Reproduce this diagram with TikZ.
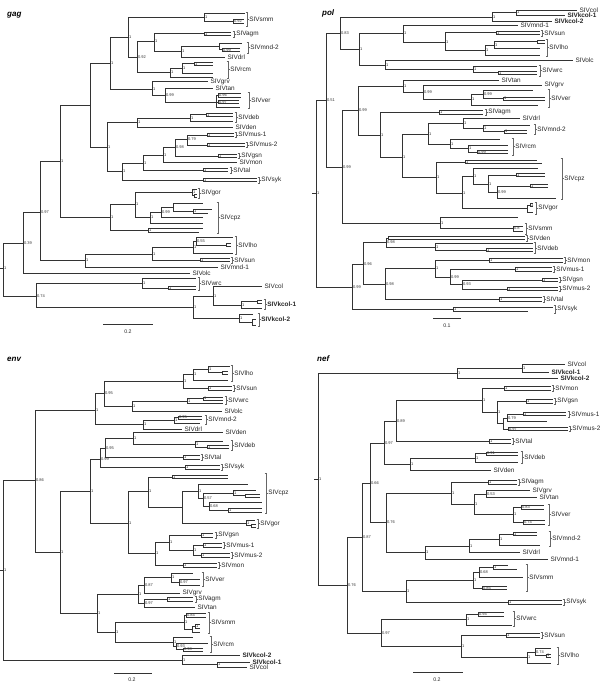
\documentclass[tikz,border=0pt]{standalone}
\usepackage{fontspec}
\setmainfont{Liberation Sans}
\newcounter{snc}
\newcommand\mkr[3]{\coordinate (#1) at (#2,#3);}
\newcommand\mkn[4]{\coordinate (#2) at (#3,#4);\draw[br] (#1) |- (#2);}
\newcommand\mks[2]{\stepcounter{snc}\node[sup] (sup\arabic{snc}) at (#1) {#2};}
\newcommand\mkb[8]{\coordinate (#2) at (#3,{(#4+#5)/2});\coordinate (#2a) at (#6,#4);\coordinate (#2b) at (#7,#5);%
 \draw[br] (#1) |- (#2);\draw[br] (#2) |- (#2a);\draw[br] (#2) |- (#2b);%
 \if\relax\detokenize{#8}\relax\else\mks{#2}{#8}\fi}
\newcommand\mkl[3]{\node[tax] (#1) at ([xshift=2pt]#2) {#3};}
\newcommand\mkk[5]{\draw[brk] ({#2-1.5},#3) -- (#2,#3) -- (#2,#4) -- ({#2-1.5},#4);%
 \draw[brk] (#2,{(#3+#4)/2}) -- ({#2+1.5},{(#3+#4)/2});%
 \node[tax] (#1) at ({#2+1.8},{(#3+#4)/2}) {#5};}
\tikzset{
 br/.style={draw=black!80,line width=0.5pt},
 brk/.style={draw=black!60,line width=0.35pt},
 sup/.style={font=\fontsize{4}{4.5}\selectfont,anchor=west,inner sep=0.3pt,xshift=0.6pt,text=black!80},
 tax/.style={font=\fontsize{6.4}{7}\selectfont,anchor=west,inner sep=0.3pt,text=black!85},
 ttl/.style={font=\fontsize{8}{9}\selectfont\bfseries\itshape,anchor=west,inner sep=0pt},
 scl/.style={font=\fontsize{5.2}{6}\selectfont,inner sep=0.3pt,text=black!85}
}
\begin{document}
\begin{tikzpicture}[x=1pt,y=-1pt]
\fill[white] (0,0) rectangle (600,682);
\useasboundingbox (0,0) rectangle (600,682);
% ================= gag =================
\node[ttl] (tgag) at (7,15) {gag};
\mkr{g0}{3}{268}\coordinate (g0s) at (0,268);\draw[br] (g0s) -- (g0);\mks{g0}{1}
\mkn{g0}{g039}{23}{243}\mks{g039}{0.39}
\mkn{g0}{g074}{36}{296}\mks{g074}{0.74}
\mkn{g039}{g097}{40}{212}\mks{g097}{0.97}
\mkn{g039}{golc}{190}{273}\mkl{lgolc}{golc}{SIVolc}
\mkn{g097}{g60}{60}{161}\mks{g60}{1}
\mkn{g097}{g85}{85}{260}\mks{g85}{1}
\mkn{g60}{g90}{90}{105}
\mkn{g60}{gC0}{110}{217}\mks{gC0}{1}
\mkn{g90}{g110}{110}{63}\mks{g110}{1}
\mkn{g90}{g107}{107}{147}\mks{g107}{1}
\mkn{g110}{g128}{128}{37}\mks{g128}{1}
\mkn{g110}{g152}{152}{89}\mks{g152}{1}
\mkn{g128}{gsmm}{204}{17}\mks{gsmm}{1}
\mkn{gsmm}{gsmm1}{245}{13}
\mkb{gsmm}{gsmm2}{233}{19}{23}{244}{244}{0.92}
\mkk{lgsmm}{247}{12}{26}{SIVsmm}
\mkn{g128}{g137}{137}{57}\mks{g137}{0.92}
\mkn{g137}{g154}{154}{41.5}\mks{g154}{1}
\mkn{g137}{g170}{170}{72.5}\mks{g170}{1}
\mkb{g154}{gagm}{204}{32}{35.5}{231}{231}{1}
\mkk{lgagm}{234}{31}{37}{SIVagm}
\mkn{g154}{g181}{181}{51}\mks{g181}{1}
\mkn{g181}{gmnd}{219}{46}
\mkn{gmnd}{gmnd1}{242}{43}
\mkb{gmnd}{gmnd2}{222}{48}{51.5}{240}{240}{0.99}
\mkk{lgmnd}{248}{42}{53}{SIVmnd-2}
\mkn{g181}{gdrl}{225}{57}\mkl{lgdrl}{gdrl}{SIVdrl}
\mkn{g170}{g182}{182}{68}\mks{g182}{1}
\mkb{g182}{grcm1}{194}{62}{65.5}{213}{213}{1}
\mkn{g182}{grcm2}{213}{73}
\mkn{g170}{grcm3}{213}{77}
\mkk{lgrcm}{228}{61}{78}{SIVrcm}
\mkn{g152}{ggrv}{208}{81.5}\mkl{lggrv}{ggrv}{SIVgrv}
\mkn{g152}{g165}{165}{95.5}\mks{g165}{0.99}
\mkn{g165}{gtan}{213}{88.5}\mkl{lgtan}{gtan}{SIVtan}
\mkn{g165}{gver}{216}{102}
\mkb{gver}{gver1}{218}{93}{97}{241}{241}{0.96}
\mkb{gver}{gver2}{218}{100.5}{103.5}{239}{239}{0.97}
\mkn{gver}{gver3}{240}{107}
\mkk{lgver}{249}{92}{108}{SIVver}
\mkn{g107}{gdd}{137}{122}\mks{gdd}{1}
\mkn{gdd}{gdeb}{190}{118}\mks{gdeb}{1}
\mkb{gdeb}{gdeb1}{206}{113}{116.5}{233}{233}{1}
\mkn{gdeb}{gdeb2}{233}{121}
\mkk{lgdeb}{236}{112}{122}{SIVdeb}
\mkn{gdd}{gden}{233}{127}\mkl{lgden}{gden}{SIVden}
\mkn{g107}{g122}{122}{171}\mks{g122}{1}
\mkn{g122}{g143}{143}{163}\mks{g143}{1}
\mkb{g122}{gsyk}{203}{178}{181.5}{257}{257}{1}
\mkk{lgsyk}{259}{177}{183}{SIVsyk}
\mkn{g143}{g163}{163}{155}\mks{g163}{1}
\mkb{g143}{gtal}{203}{168}{171.5}{228}{228}{1}
\mkk{lgtal}{231}{167}{173}{SIVtal}
\mkn{g163}{g175}{175}{147}\mks{g175}{0.98}
\mkn{g163}{gmon}{237}{162}\mkl{lgmon}{gmon}{SIVmon}
\mkn{g175}{g187}{187}{139}\mks{g187}{0.79}
\mkb{g175}{ggsn}{218}{154}{157.5}{237}{237}{1}
\mkk{lggsn}{239}{153}{158.5}{SIVgsn}
\mkb{g187}{gmus1}{207}{133}{136.5}{234}{234}{1}
\mkk{lgmus1}{236}{132}{137.5}{SIVmus-1}
\mkb{g187}{gmus2}{207}{143}{146.5}{245}{245}{1}
\mkk{lgmus2}{247}{142}{147.5}{SIVmus-2}
\mkn{gC0}{gC1}{135}{204}\mks{gC1}{1}
\mkb{gC0}{gC4}{148}{228}{232}{203}{199}{1}
\mkn{gC1}{ggor}{192}{192.5}\mks{ggor}{1}
\mkn{ggor}{ggor1}{197}{189}
\mkb{ggor}{ggor2}{194}{194}{197}{197}{197}{}
\mkk{lggor}{199}{188}{198}{SIVgor}
\mkn{gC1}{gC2}{150}{217}\mks{gC2}{1}
\mkn{gC2}{gC3}{161}{212}\mks{gC3}{0.99}
\mkn{gC2}{gcpz5}{203}{223}
\mkn{gC3}{gC5}{173}{207}
\mkn{gC5}{gcpz1}{203}{203}
\mkb{gC5}{gcpz2}{193}{209}{213}{212}{208}{1}
\mkn{gC3}{gcpz3}{203}{217}
\mkk{lgcpz}{218}{202}{233}{SIVcpz}
\mkn{g85}{g152b}{152}{254}\mks{g152b}{1}
\mkn{g85}{gmnd1}{218}{267}\mkl{lgmnd1}{gmnd1}{SIVmnd-1}
\mkn{g152b}{glho}{193}{247}\mks{glho}{1}
\mkn{glho}{glho2}{196}{241}\mks{glho2}{0.55}
\mkn{glho2}{glho3}{233}{237}
\mkb{glho2}{glho4}{226}{243.5}{246.5}{231}{231}{}
\mkn{glho}{glho5}{233}{253}
\mkk{lglho}{236}{236}{254}{SIVlho}
\mkb{g152b}{gsun}{200}{258}{261.5}{230}{230}{1}
\mkk{lgsun}{232}{257}{263}{SIVsun}
\mkn{g074}{gwrc}{142}{283}\mks{gwrc}{1}
\mkn{gwrc}{gwrc1}{196}{278}
\mkb{gwrc}{gwrc2}{168}{286}{289.5}{196}{196}{1}
\mkk{lgwrc}{199}{277}{290}{SIVwrc}
\mkn{g074}{gk}{193}{307}\mks{gk}{1}
\mkn{gk}{gk1}{213}{296}\mks{gk1}{1}
\mkn{gk1}{gcol}{262}{286}\mkl{lgcol}{gcol}{SIVcol}
\mkn{gk1}{gk1b}{241}{305}\mks{gk1b}{1}
\mkb{gk1b}{gk1c}{257}{300}{303}{262}{262}{}
\mkn{gk1b}{gk1d}{262}{308}
\mkk{lgk1}{265}{299}{309}{\textbf{SIVkcol-1}}
\mkn{gk}{gk2}{239}{318}\mks{gk2}{1}
\mkn{gk2}{gk2a}{253}{314}
\mkb{gk2}{gk2b}{252}{319}{325}{256}{256}{}
\mkk{lgk2}{259}{313}{326}{\textbf{SIVkcol-2}}
\coordinate (gsb1) at (103,324);\coordinate (gsb2) at (153,324);\draw[br] (gsb1) -- (gsb2);
\node[scl] (gsbl) at (128,332) {0.2};
% ================= pol =================
\node[ttl] (tpol) at (322,13) {pol};
\mkr{p0}{316}{193}\coordinate (p0s) at (312,193);\draw[br] (p0s) -- (p0);\mks{p0}{1}
\mkn{p0}{p051}{326}{100}\mks{p051}{0.51}
\mkn{p0}{p099l}{352}{287}\mks{p099l}{0.99}
\mkn{p051}{p083}{340}{33}\mks{p083}{0.83}
\mkn{p051}{p099a}{342}{167}\mks{p099a}{0.99}
\mkn{p083}{pk}{492}{17}\mks{pk}{1}
\mkn{pk}{pk1}{516}{12.5}\mks{pk1}{1}
\mkn{pk1}{pcol}{577}{10}\mkl{lpcol}{pcol}{SIVcol}
\mkn{pk1}{pkc1}{565}{15}\mkl{lpkc1}{pkc1}{\textbf{SIVkcol-1}}
\mkn{pk}{pkc2}{552}{21}\mkl{lpkc2}{pkc2}{\textbf{SIVkcol-2}}
\mkn{p083}{p359}{359}{49}\mks{p359}{1}
\mkn{p359}{p403}{403}{33.5}\mks{p403}{1}
\mkn{p359}{p385}{385}{65}\mks{p385}{1}
\mkn{p403}{pmnd1}{518}{25}\mkl{lpmnd1}{pmnd1}{SIVmnd-1}
\mkn{p403}{p445}{445}{42}\mks{p445}{1}
\mkb{p445}{psun}{496}{31}{34.5}{540}{540}{1}
\mkk{lpsun}{542}{30}{36}{SIVsun}
\mkn{p445}{p485}{485}{50}\mks{p485}{1}
\mkn{p485}{p494}{494}{45}\mks{p494}{1}
\mkb{p494}{plho1}{537}{40}{43.5}{545}{545}{}
\mkn{p494}{plho2}{540}{48}
\mkn{p485}{plho3}{540}{55}
\mkk{lplho}{547}{39}{56}{SIVlho}
\mkn{p385}{polc}{573}{60}\mkl{lpolc}{polc}{SIVolc}
\mkn{p385}{p473}{473}{69.5}\mks{p473}{1}
\mkn{p473}{pwrc1}{537}{66}
\mkb{p473}{pwrc2}{498}{71}{74.5}{537}{537}{1}
\mkk{lpwrc}{540}{65}{76}{SIVwrc}
\mkn{p099a}{p358}{358}{110}\mks{p358}{0.99}
\mkn{p099a}{psmm}{440}{223}\mks{psmm}{1}
\mkn{psmm}{psmm1}{518}{217}
\mkb{psmm}{psmm2}{513}{226}{231}{523}{523}{0.8}
\mkk{lpsmm}{526}{223}{234}{SIVsmm}
\mkn{p358}{p403b}{403}{86}\mks{p403b}{1}
\mkn{p358}{p380}{380}{135}\mks{p380}{1}
\mkn{p403b}{ptan}{499}{80}\mkl{lptan}{ptan}{SIVtan}
\mkn{p403b}{p423}{423}{92}\mks{p423}{0.99}
\mkn{p423}{pgrv}{542}{85}\mkl{lpgrv}{pgrv}{SIVgrv}
\mkn{p423}{p471}{471}{99.5}\mks{p471}{1}
\mkn{p471}{p483}{483}{94}\mks{p483}{0.99}
\mkn{p483}{pver1}{533}{90}
\mkb{p483}{pver2}{503}{97}{100}{545}{545}{1}
\mkn{p471}{pver3}{538}{105}
\mkk{lpver}{549}{89}{107}{SIVver}
\mkb{p380}{pagm}{439}{110.5}{114}{483}{483}{1}
\mkk{lpagm}{486}{109}{115.5}{SIVagm}
\mkn{p380}{p402}{402}{157}\mks{p402}{1}
\mkn{p402}{p428}{428}{134}\mks{p428}{1}
\mkn{p402}{p436}{436}{177.5}\mks{p436}{1}
\mkn{p428}{p463}{463}{123}\mks{p463}{1}
\mkn{p428}{p450}{450}{144}\mks{p450}{1}
\mkn{p463}{pdrl}{520}{118}\mkl{lpdrl}{pdrl}{SIVdrl}
\mkn{p463}{p483b}{483}{128}\mks{p483b}{1}
\mkn{p483b}{pmnd2a}{530}{125}
\mkb{p483b}{pmnd2b}{504}{130}{133}{527}{527}{1}
\mkk{lpmnd2}{535}{124}{134}{SIVmnd-2}
\mkn{p450}{prcm1}{500}{139}
\mkn{p450}{p468}{468}{148.5}\mks{p468}{1}
\mkn{p468}{prcm2}{508}{145}
\mkb{p468}{prcm3}{477}{150}{153.5}{508}{508}{0.99}
\mkk{lprcm}{513}{138}{155}{SIVrcm}
\mkb{p436}{pcpz1}{465}{160}{163.5}{537}{542}{1}
\mkn{p436}{p462}{462}{193}\mks{p462}{1}
\mkn{p462}{p473c}{473}{176}\mks{p473c}{1}
\mkn{p473c}{pcpz2}{538}{168}
\mkn{p473c}{p488}{488}{184}\mks{p488}{1}
\mkb{p488}{pcpz3}{516}{173}{176.5}{545}{545}{1}
\mkn{p488}{p497}{497}{192}\mks{p497}{0.99}
\mkb{p497}{pcpz4}{530}{184}{187.5}{548}{548}{1}
\mkn{p497}{pcpz5}{556}{198}
\mkk{lpcpz}{562}{158}{199}{SIVcpz}
\mkn{p462}{pgor}{527}{208.5}
\mkb{pgor}{pgor1}{530}{203.5}{206.5}{533}{533}{1}
\mkn{pgor}{pgor2}{533}{212}
\mkk{lpgor}{536}{202}{214}{SIVgor}
\mkn{p099l}{p096}{363}{264}\mks{p096}{0.96}
\mkb{p099l}{psyk}{453}{307}{311}{553}{528}{1}
\mkk{lpsyk}{555}{305}{313}{SIVsyk}
\mkn{p096}{p098a}{386}{242}\mks{p098a}{0.98}
\mkn{p096}{p098b}{385}{284}\mks{p098b}{0.98}
\mkb{p098a}{pden}{388}{236.5}{239.5}{525}{525}{}
\mkk{lpden}{527}{235}{241}{SIVden}
\mkn{p098a}{p435}{435}{247}\mks{p435}{1}
\mkn{p435}{pdeb1}{533}{243.5}
\mkb{p435}{pdeb2}{486}{248.5}{251.5}{533}{533}{1}
\mkk{lpdeb}{535}{242.5}{253}{SIVdeb}
\mkn{p098b}{p435b}{435}{268.5}\mks{p435b}{1}
\mkb{p098b}{ptal}{499}{297.5}{301}{542}{542}{1}
\mkk{lptal}{544}{296.5}{302}{SIVtal}
\mkb{p435b}{pmon}{489}{258.5}{262}{563}{563}{1}
\mkk{lpmon}{565}{257.5}{263}{SIVmon}
\mkn{p435b}{p450b}{450}{277}\mks{p450b}{0.99}
\mkb{p450b}{pmus1}{515}{267.5}{271}{552}{552}{1}
\mkk{lpmus1}{554}{266.5}{272}{SIVmus-1}
\mkn{p450b}{p462b}{462}{284}\mks{p462b}{0.93}
\mkb{p462b}{pgsn}{542}{278}{281.5}{558}{558}{1}
\mkk{lpgsn}{560}{277}{282.5}{SIVgsn}
\mkb{p462b}{pmus2}{507}{287}{290.5}{558}{558}{1}
\mkk{lpmus2}{560}{286}{291.5}{SIVmus-2}
\coordinate (psb1) at (433,318);\coordinate (psb2) at (461,318);\draw[br] (psb1) -- (psb2);
\node[scl] (psbl) at (447,326) {0.1};
% ================= env =================
\node[ttl] (tenv) at (7,359) {env};
\mkr{e0}{3}{570}\coordinate (e0s) at (0,570);\draw[br] (e0s) -- (e0);\mks{e0}{1}
\mkn{e0}{e086}{35}{480}\mks{e086}{0.86}
\mkn{e0}{ek}{182}{660}\mks{ek}{1}
\mkn{e086}{e95}{95}{410}\mks{e95}{1}
\mkn{e086}{e60}{60}{552}\mks{e60}{1}
\mkn{e95}{e104}{104}{393.5}\mks{e104}{0.95}
\mkn{e95}{e143}{143}{424.5}\mks{e143}{1}
\mkn{e104}{e183}{183}{381}\mks{e183}{1}
\mkn{e104}{e132}{132}{406}\mks{e132}{1}
\mkn{e183}{e193}{193}{374.5}\mks{e193}{1}
\mkn{e193}{e208}{208}{369}\mks{e208}{1}
\mkn{e208}{elho1}{230}{366}
\mkb{e208}{elho2}{222}{371}{374}{228}{228}{}
\mkn{e193}{elho3}{228}{380}
\mkk{lelho}{232}{365}{381}{SIVlho}
\mkb{e183}{esun}{208}{386.5}{390}{232}{232}{1}
\mkk{lesun}{234}{385.5}{391}{SIVsun}
\mkn{e132}{e187}{187}{401}\mks{e187}{1}
\mkb{e187}{ewrc1}{203}{397}{400}{223}{223}{1}
\mkn{e187}{ewrc2}{223}{403}
\mkk{lewrc}{226}{396}{404}{SIVwrc}
\mkn{e132}{eolc}{222}{411}\mkl{leolc}{eolc}{SIVolc}
\mkn{e143}{e174}{174}{420}\mks{e174}{1}
\mkb{e174}{emnd1}{178}{416}{419}{202}{202}{0.95}
\mkn{e174}{emnd2}{200}{423}
\mkk{lemnd}{206}{415}{424}{SIVmnd-2}
\mkn{e143}{edrl}{182}{429}\mkl{ledrl}{edrl}{SIVdrl}
\mkn{e60}{e90}{90}{491}\mks{e90}{1}
\mkn{e60}{e97}{97}{613}\mks{e97}{1}
\mkn{e90}{e100}{100}{459}\mks{e100}{0.99}
\mkn{e90}{e128}{128}{523}\mks{e128}{1}
\mkn{e100}{e105}{105}{448}\mks{e105}{0.95}
\mkb{e100}{esyk}{185}{465.5}{469}{220}{220}{1}
\mkk{lesyk}{222}{464.5}{470}{SIVsyk}
\mkn{e105}{e133}{133}{438}\mks{e133}{1}
\mkb{e105}{etal}{183}{455.5}{459}{200}{200}{1}
\mkk{letal}{202}{454.5}{460}{SIVtal}
\mkn{e133}{eden}{223}{432}\mkl{leden}{eden}{SIVden}
\mkn{e133}{e195}{195}{444}\mks{e195}{1}
\mkn{e195}{edeb1}{223}{441}
\mkb{e195}{edeb2}{207}{445.5}{448.5}{229}{229}{1}
\mkk{ledeb}{232}{440}{450}{SIVdeb}
\mkn{e128}{e148}{148}{491}\mks{e148}{1}
\mkn{e128}{e155}{155}{553}\mks{e155}{1}
\mkb{e148}{ecpz1}{172}{475}{478.5}{228}{228}{1}
\mkn{e148}{e182}{182}{507}
\mkn{e182}{e198}{198}{491}\mks{e198}{1}
\mkn{e182}{egor}{246}{523}\mks{egor}{1}
\mkn{e198}{ecpz2}{248}{484}
\mkn{e198}{e203}{203}{498}\mks{e203}{0.57}
\mkn{e203}{e233}{233}{493}\mks{e233}{1}
\mkn{e233}{ecpz3}{256}{490}
\mkb{e233}{ecpz4}{245}{494}{497}{260}{260}{}
\mkn{e203}{e209}{209}{506}\mks{e209}{0.68}
\mkn{e209}{ecpz5}{262}{502}
\mkb{e209}{ecpz6}{228}{508}{512}{262}{262}{1}
\mkk{lecpz}{266}{473}{513}{SIVcpz}
\mkn{egor}{egor1}{255}{520}
\mkb{egor}{egor2}{251}{524}{527}{256}{256}{}
\mkk{legor}{258}{519}{528}{SIVgor}
\mkn{e155}{e169}{169}{542.5}\mks{e169}{1}
\mkb{e155}{emon}{183}{563.5}{567}{217}{217}{1}
\mkk{lemon}{219}{562.5}{568}{SIVmon}
\mkb{e169}{egsn}{201}{533.5}{537}{213}{213}{1}
\mkk{legsn}{216}{532.5}{538}{SIVgsn}
\mkn{e169}{e193b}{193}{550}\mks{e193b}{1}
\mkb{e193b}{emus1}{203}{543.5}{547}{222}{222}{1}
\mkk{lemus1}{224}{542.5}{548}{SIVmus-1}
\mkb{e193b}{emus2}{201}{553.5}{557}{230}{230}{1}
\mkk{lemus2}{232}{552.5}{558}{SIVmus-2}
\mkn{e97}{e138}{138}{594.5}\mks{e138}{1}
\mkn{e97}{e115}{115}{632}\mks{e115}{1}
\mkn{e138}{e144a}{144}{585}\mks{e144a}{0.87}
\mkn{e138}{e144b}{144}{603}\mks{e144b}{0.97}
\mkn{e144a}{e171}{171}{577.5}\mks{e171}{1}
\mkn{e171}{ever1}{193}{573}
\mkn{e171}{e179}{179}{582}\mks{e179}{0.97}
\mkn{e179}{ever2}{200}{579}
\mkn{e179}{ever3}{200}{585}
\mkk{lever}{203}{572}{586}{SIVver}
\mkn{e144a}{egrv}{180}{593}\mkl{legrv}{egrv}{SIVgrv}
\mkb{e144b}{eagm}{167}{597.5}{601}{193}{193}{1}
\mkk{leagm}{196}{596.5}{602}{SIVagm}
\mkn{e144b}{etan}{195}{607}\mkl{letan}{etan}{SIVtan}
\mkn{e115}{e184}{184}{622}\mks{e184}{1}
\mkb{e184}{esmm1}{186}{613}{617}{206}{206}{0.84}
\mkn{e184}{e192}{192}{629}
\mkb{e192}{esmm2}{195}{624}{628}{200}{200}{1}
\mkn{e192}{esmm3}{200}{632}
\mkk{lesmm}{209}{612}{633}{SIVsmm}
\mkn{e115}{e173}{173}{642}\mks{e173}{1}
\mkn{e173}{ercm1}{193}{637}
\mkn{e173}{e176}{176}{646}\mks{e176}{0.93}
\mkn{e176}{ercm2}{208}{643}
\mkb{e176}{ercm3}{183}{648}{651}{203}{203}{0.98}
\mkk{lercm}{211}{636}{652}{SIVrcm}
\mkn{ek}{ekc2}{240}{655}\mkl{lekc2}{ekc2}{\textbf{SIVkcol-2}}
\mkn{ek}{e217}{217}{664.5}\mks{e217}{1}
\mkn{e217}{ekc1}{250}{662}\mkl{lekc1}{ekc1}{\textbf{SIVkcol-1}}
\mkn{e217}{ecol}{247}{667}\mkl{lecol}{ecol}{SIVcol}
\coordinate (esb1) at (114,673);\coordinate (esb2) at (152,673);\draw[br] (esb1) -- (esb2);
\node[scl] (esbl) at (132,679.5) {0.2};
% ================= nef =================
\node[ttl] (tnef) at (317,359) {nef};
\mkr{n0}{318}{479}\coordinate (n0s) at (314,479);\draw[br] (n0s) -- (n0);\mks{n0}{1}
\mkn{n0}{nk}{457}{373}\mks{nk}{1}
\mkn{n0}{n076}{347}{585.5}\mks{n076}{0.76}
\mkn{nk}{n522}{522}{368}\mks{n522}{1}
\mkn{n522}{ncol}{565}{364}\mkl{lncol}{ncol}{SIVcol}
\mkn{n522}{nkc1}{549}{372}\mkl{lnkc1}{nkc1}{\textbf{SIVkcol-1}}
\mkn{nk}{nkc2}{558}{378}\mkl{lnkc2}{nkc2}{\textbf{SIVkcol-2}}
\mkn{n076}{n087}{362}{537}\mks{n087}{0.87}
\mkn{n076}{n097b}{381}{633}\mks{n097b}{0.97}
\mkn{n087}{n066}{370}{483}\mks{n066}{0.66}
\mkn{n087}{n406}{406}{591}\mks{n406}{1}
\mkn{n066}{n097a}{384}{443}\mks{n097a}{0.97}
\mkn{n066}{n076b}{386}{522.5}\mks{n076b}{0.76}
\mkn{n097a}{n089}{396}{421}\mks{n089}{0.89}
\mkn{n097a}{n410}{410}{464}\mks{n410}{1}
\mkn{n089}{n482}{482}{400}\mks{n482}{1}
\mkb{n089}{ntal}{489}{439.5}{443}{511}{511}{1}
\mkk{lntal}{513}{438.5}{444}{SIVtal}
\mkb{n482}{nmon}{504}{386.5}{390}{551}{551}{1}
\mkk{lnmon}{553}{385.5}{391}{SIVmon}
\mkn{n482}{n497}{497}{412}\mks{n497}{1}
\mkb{n497}{ngsn}{526}{399.5}{403}{553}{553}{1}
\mkk{lngsn}{555}{398.5}{404}{SIVgsn}
\mkn{n497}{nmus}{503}{423}
\mkn{nmus}{n079}{507}{418}\mks{n079}{0.79}
\mkb{n079}{nmus1a}{523}{412}{415.5}{566}{566}{1}
\mkn{n079}{nmus1b}{547}{421}
\mkk{lnmus1}{569}{411}{417}{SIVmus-1}
\mkb{nmus}{nmus2}{508}{427}{430.5}{568}{568}{0.97}
\mkk{lnmus2}{570}{426}{431.5}{SIVmus-2}
\mkn{n410}{n475}{475}{458}\mks{n475}{1}
\mkb{n475}{ndeb1}{486}{452}{455}{518}{518}{0.91}
\mkn{n475}{ndeb2}{518}{462}
\mkk{lndeb}{522}{451}{463}{SIVdeb}
\mkn{n410}{nden}{491}{470}\mkl{lnden}{nden}{SIVden}
\mkn{n076b}{n451}{451}{493}\mks{n451}{1}
\mkn{n076b}{n425}{425}{552}\mks{n425}{1}
\mkb{n451}{nagm}{488}{480.5}{484}{517}{517}{1}
\mkk{lnagm}{519}{479.5}{485}{SIVagm}
\mkn{n451}{n474}{474}{504}\mks{n474}{1}
\mkn{n474}{n486}{486}{494}\mks{n486}{0.53}
\mkn{n486}{ngrv}{530}{490.5}\mkl{lngrv}{ngrv}{SIVgrv}
\mkn{n486}{ntan}{537}{497.5}\mkl{lntan}{ntan}{SIVtan}
\mkn{n474}{n513}{513}{514.5}\mks{n513}{1}
\mkb{n513}{nver1}{521}{505}{509}{544}{544}{0.83}
\mkb{n513}{nver2}{523}{520}{524}{545}{545}{0.74}
\mkk{lnver}{549}{504}{525}{SIVver}
\mkn{n425}{n469}{469}{546}\mks{n469}{1}
\mkn{n425}{nmnd1}{548}{559}\mkl{lnmnd1}{nmnd1}{SIVmnd-1}
\mkn{n469}{n499}{499}{539.5}\mks{n499}{1}
\mkb{n499}{nmnd2a}{513}{532}{535.5}{537}{537}{1}
\mkn{n499}{nmnd2b}{540}{545}
\mkk{lnmnd2}{550}{531}{546}{SIVmnd-2}
\mkn{n469}{ndrl}{520}{552}\mkl{lndrl}{ndrl}{SIVdrl}
\mkn{n406}{n473}{473}{580}\mks{n473}{1}
\mkb{n406}{nsyk}{508}{600.5}{604}{562}{562}{1}
\mkk{lnsyk}{564}{599.5}{605}{SIVsyk}
\mkn{n473}{n479}{479}{572}\mks{n479}{0.68}
\mkb{n479}{nsmm1}{493}{565.5}{569}{508}{517}{1}
\mkn{n479}{nsmm2}{523}{577}
\mkb{n473}{nsmm3}{482}{586}{589.5}{507}{507}{0.85}
\mkk{lnsmm}{527}{564}{591}{SIVsmm}
\mkn{n097b}{n466}{466}{619.5}\mks{n466}{1}
\mkn{n097b}{n461}{461}{646}\mks{n461}{1}
\mkb{n466}{nwrc1}{478}{612}{616}{504}{504}{0.94}
\mkn{n466}{nwrc2}{512}{625}
\mkk{lnwrc}{514}{611}{626}{SIVwrc}
\mkb{n461}{nsun}{506}{633.5}{637}{540}{540}{1}
\mkk{lnsun}{542}{632.5}{638}{SIVsun}
\mkn{n461}{n527}{527}{657.5}\mks{n527}{1}
\mkn{n527}{n535}{535}{652}\mks{n535}{0.74}
\mkn{n535}{nlho1}{551}{648}
\mkb{n535}{nlho2}{546}{654}{657}{551}{551}{1}
\mkn{n527}{nlho3}{551}{663}
\mkk{lnlho}{558}{647}{664}{SIVlho}
\coordinate (nsb1) at (413,672);\coordinate (nsb2) at (463,672);\draw[br] (nsb1) -- (nsb2);
\node[scl] (nsbl) at (437,679.5) {0.2};
\end{tikzpicture}
\end{document}
